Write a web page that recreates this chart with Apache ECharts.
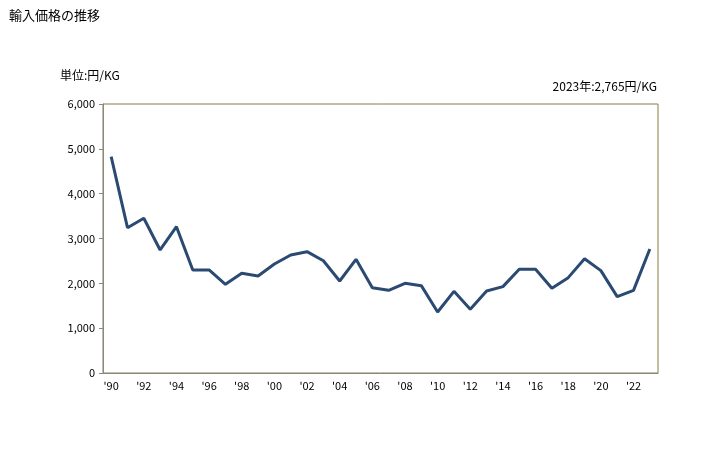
<!DOCTYPE html>
<html><head><meta charset="utf-8">
<script src="https://cdn.jsdelivr.net/npm/echarts@6/dist/echarts.min.js"></script>
<style>html,body{margin:0;padding:0;background:#fff}#c{width:728px;height:450px}</style>
</head><body><div id="c"></div>
<script>
const years = [];
for (let y = 1990; y <= 2023; y++) years.push(String(y));
const values = [4825,3241,3451,2744,3264,2298,2298,1978,2223,2164,2431,2632,2706,2505,2052,2536,1903,1844,2000,1948,1361,1822,1420,1829,1926,2313,2313,1889,2127,2550,2283,1703,1844,2765];
const yTicks = [0,1000,2000,3000,4000,5000,6000];
const titleText = '輸入価格の推移';
const unitText = '単位:円/KG';
const noteText = '2023年:2,765円/KG';
const font = '"Noto Sans CJK JP", "Noto Sans", sans-serif';

const chart = echarts.init(document.getElementById('c'));
chart.setOption({
  animation: false,
  textStyle: {fontFamily: font},
  title: [
    {text: titleText, left: 4, top: 4, textStyle: {fontSize: 13, fontWeight: 'normal', color: '#000', fontFamily: font}},
    {text: unitText, left: 55, top: 64, textStyle: {fontSize: 12, fontWeight: 'normal', color: '#000', fontFamily: font}},
    {text: noteText, right: 66, top: 75, textStyle: {fontSize: 12, fontWeight: 'normal', color: '#000', fontFamily: font}}
  ],
  grid: {left: 103, right: 70, top: 104, bottom: 77, show: true, borderColor: '#8B7F3F', borderWidth: 1, backgroundColor: 'transparent'},
  xAxis: {
    type: 'category', data: years, boundaryGap: true,
    axisLine: {show: true, lineStyle: {color: '#888', width: 1}},
    axisTick: {show: false},
    axisLabel: {
      interval: 0, color: '#000', fontSize: 11, margin: 7,
      formatter: (v, i) => (i % 2 === 0 ? "'" + v.slice(2) : '')
    },
    splitLine: {show: false}
  },
  yAxis: {
    type: 'value', min: yTicks[0], max: yTicks[yTicks.length-1], interval: 1000,
    axisLine: {show: true, lineStyle: {color: '#888', width: 1}},
    axisTick: {show: true, length: 4, lineStyle: {color: '#888'}},
    axisLabel: {color: '#000', fontSize: 11, margin: 8, formatter: v => v.toLocaleString('en-US')},
    splitLine: {show: false}
  },
  series: [{
    type: 'line', data: values, symbol: 'none',
    lineStyle: {color: '#2B4A72', width: 3}
  }]
});
</script></body></html>
